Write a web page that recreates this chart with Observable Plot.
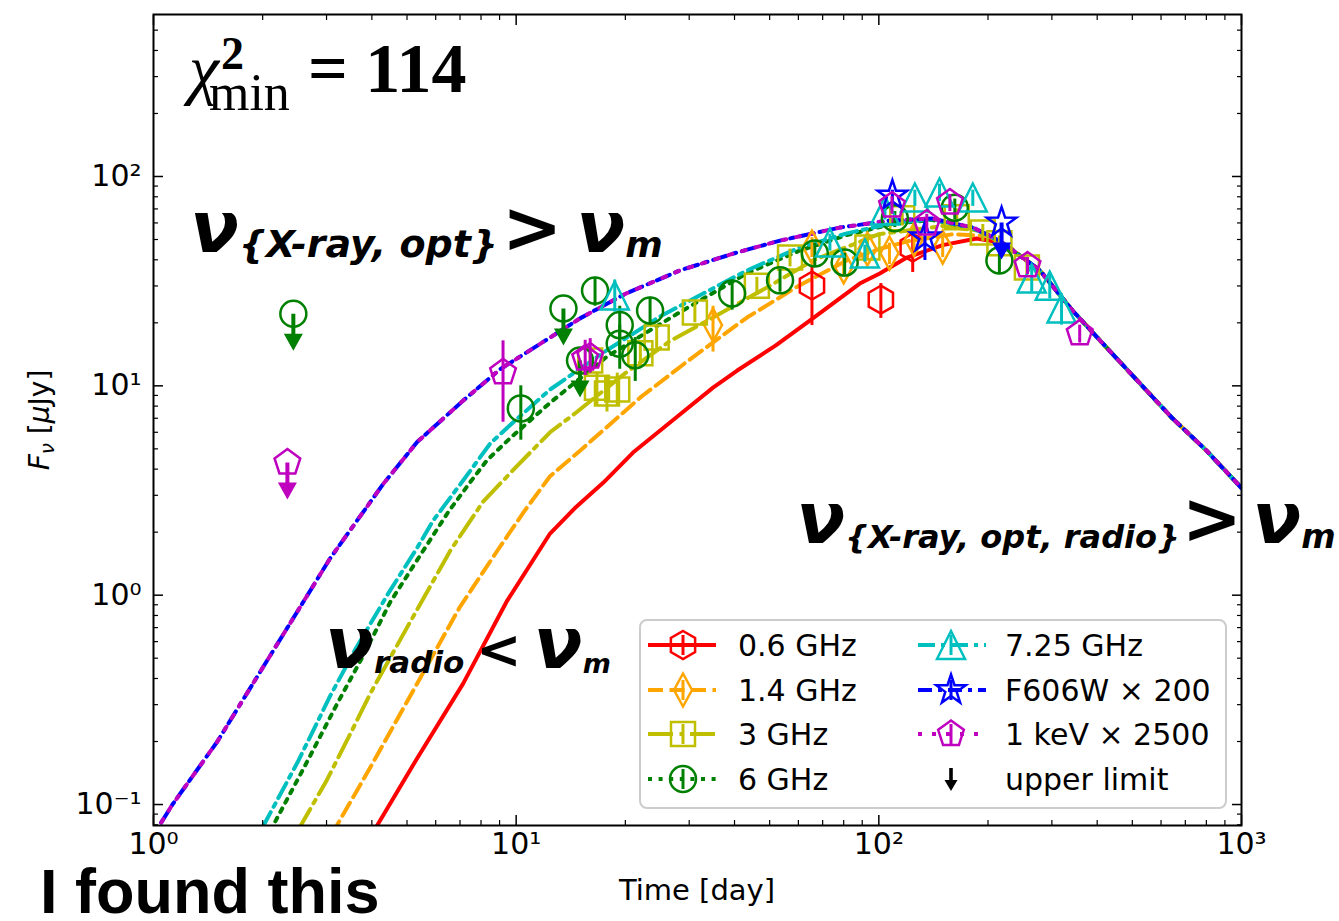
<!DOCTYPE html>
<html><head><meta charset="utf-8">
<script src="https://cdn.jsdelivr.net/npm/d3@7"></script>
<script src="https://cdn.jsdelivr.net/npm/@observablehq/plot@0.6"></script>
<style>body{margin:0;background:#fff} svg{display:block}</style>
</head><body><div id="chart"></div>
<script>
// ---------- axes ----------
const xMajor = [1, 10, 100, 1000];
const xMajorLabels = ["10⁰", "10¹", "10²", "10³"];
const xMinor = [2,3,4,5,6,7,8,9,20,30,40,50,60,70,80,90,200,300,400,500,600,700,800,900];
const yMajor = [0.1, 1, 10, 100];
const yMajorLabels = ["10⁻¹", "10⁰", "10¹", "10²"];
const yMinor = [0.08,0.09,0.2,0.3,0.4,0.5,0.6,0.7,0.8,0.9,2,3,4,5,6,7,8,9,20,30,40,50,60,70,80,90,200,300,400,500];

// ---------- model curves (time in days, flux in uJy) ----------
const tailT = [250, 278, 342, 425, 524, 645, 801, 1000];
const tailF = [40.8, 35.6, 22.9, 15.2, 10.3, 7.0, 4.9, 3.25];

const m06T = [4.0, 5.34, 7.14, 9.44, 12.4, 14.5, 17.4, 21, 28, 34.9, 40.6, 52, 64.5, 88.6, 100.6, 119.5, 150, 186, 215, 235];
const m06F = [0.072, 0.167, 0.378, 0.94, 1.97, 2.6, 3.45, 4.8, 7.2, 9.8, 11.8, 15.6, 20.5, 30.8, 34.4, 41, 47, 50.6, 48.5, 44];
const m14T = [3.1, 4.0, 5.34, 7.0, 8.87, 10.5, 12.4, 15, 22, 30, 43.3, 60, 81.6, 100, 120, 160, 200, 230];
const m14F = [0.072, 0.155, 0.38, 0.88, 1.63, 2.5, 3.7, 4.9, 8.8, 13.3, 21.2, 30, 39.7, 45, 49, 53, 52, 46];
const m3T = [2.5, 3.0, 3.5, 3.96, 5.0, 6.58, 8.11, 10, 12.4, 14.7, 20, 26.6, 34.9, 50, 65.8, 100, 150, 190, 220];
const m3F = [0.075, 0.13, 0.22, 0.339, 0.7, 1.63, 2.8, 4.1, 6.0, 7.5, 11.5, 16.4, 21.2, 30, 39.7, 53, 58, 55, 48];
const m6T = [2.1, 2.6, 3.2, 3.8, 4.5, 5.54, 6.5, 7.5, 8.3, 9.6, 12.4, 17.8, 28.3, 43.3, 60, 81.6, 110, 140, 180, 215];
const m6F = [0.075, 0.15, 0.3, 0.52, 0.93, 1.63, 2.5, 3.5, 4.4, 5.6, 8.3, 13.8, 22.5, 34.5, 44, 52.5, 59.5, 62, 57, 49.4];
const m725T = [2.0, 2.5, 3.07, 3.6, 4.44, 5.34, 5.9, 7.14, 8.48, 9.63, 12.4, 17.8, 25, 43.3, 60, 81.6, 110, 140, 180, 215];
const m725F = [0.078, 0.16, 0.33, 0.55, 1.02, 1.69, 2.27, 3.53, 5.3, 6.5, 9.6, 14.8, 21.5, 35.6, 45.5, 53.5, 60, 62.5, 57, 49.4];
const mOptT = [1.05, 1.128, 1.5, 2.0, 2.59, 3.07, 3.42, 4.3, 5.34, 7.14, 9.03, 12.4, 15, 20, 28.3, 40, 53.4, 78, 107, 140, 182, 215];
const mOptF = [0.082, 0.1, 0.2, 0.45, 0.93, 1.5, 1.95, 3.4, 5.4, 8.5, 12, 17, 21, 27.5, 35.6, 43, 49.4, 57, 61.6, 63, 57, 49.4];
const mXT = mOptT, mXF = mOptF;

// ---------- observations ----------
const o06T = [65.4, 101.3, 124];
const o06F = [30.1, 25.8, 45.8];
const o06Lo = [19.4, 21.0, 34.8];
const o06Hi = [37.6, 30.8, 55.2];

const o14T = [34.9, 65.4, 80, 93, 107, 125, 150];
const o14F = [19.5, 46, 37, 45, 43, 50, 46];
const o14Lo = [14.5, 41, 33, 40, 38, 44, 41];
const o14Hi = [24, 51, 41, 50, 48, 56, 51];

const o3T = [16.0, 16.7, 17.8, 19.0, 22, 24.4, 31.1, 46.1, 56.9, 93, 116, 164, 193.5, 215, 256];
const o3F = [13.2, 9.8, 9.2, 9.6, 14.3, 17.0, 22.4, 30.1, 41, 45.8, 63.2, 63.9, 54, 48, 36.7];
const o3Lo = [11.5, 8.0, 7.5, 8.0, 12.5, 15, 20, 27, 37, 42, 58, 58, 49, 44, 33];
const o3Hi = [15, 11.5, 11, 11.5, 16, 19, 25, 33, 45, 50, 68, 70, 59, 52, 40];

const o6T = [10.3, 16.5, 19.3, 19.3, 21.3, 23.4, 39.4, 53.4, 66.6, 80.5, 110.7, 162, 215];
const o6F = [7.8, 28.5, 19.5, 15.9, 14.0, 22.9, 27.6, 31.9, 42.9, 38.8, 63.2, 71, 39.7];
const o6Lo = [5.5, 24, 15, 12, 10.5, 19.5, 23, 28, 37, 34, 57, 62, 34];
const o6Hi = [10.0, 33, 24, 19.5, 17, 26.5, 32, 36, 48, 43, 68, 78, 45];
const o6UlT = [2.43, 13.5, 15.0];
const o6UlF = [22.1, 23.4, 13.2];

const o725T = [18.7, 73.3, 91.5, 104, 125.7, 147, 181.6, 264, 296, 319];
const o725F = [27, 48.4, 42.9, 68.8, 79.4, 83.8, 79.4, 32.6, 30.1, 23.4];
const o725Lo = [22.5, 44, 39, 62, 72, 76, 72, 28, 26, 19.5];
const o725Hi = [32, 53, 47, 75, 86, 92, 86, 37, 34, 27.5];

const oOptT = [109, 134];
const oOptF = [81.1, 51.2];
const oOptLo = [76, 39.7];
const oOptHi = [86, 59.8];
const oOptUlT = [218];
const oOptUlF = [60.3];

const oXT = [9.2, 15.5, 16.0, 108.7, 135.6, 157, 257, 358];
const oXF = [11.6, 13.5, 13.8, 72.7, 59.6, 75.1, 37.6, 17.8];
const oXLo = [6.7, 11.2, 11.5, 66, 54, 68, 34, 16];
const oXHi = [16.4, 16.5, 16.8, 80, 66, 82, 41, 19.5];
const oXUlT = [2.34];
const oXUlF = [4.3];

// ---------- legend / annotations text ----------
const legendLabels = ["0.6 GHz", "1.4 GHz", "3 GHz", "6 GHz", "7.25 GHz", "F606W × 200", "1 keV × 2500", "upper limit"];
const colors = {r: "#ff0000", o: "#ffa500", y: "#bfbf00", g: "#008000", c: "#00bfbf", b: "#0000ff", m: "#bf00bf"};

// ---------- symbols (pixel-sized shapes) ----------
function polySym(pts) {
  return {draw(ctx) { ctx.moveTo(pts[0][0], pts[0][1]); for (let i = 1; i < pts.length; i++) ctx.lineTo(pts[i][0], pts[i][1]); ctx.closePath(); }};
}
function regular(n, r, rot) { const p = []; for (let k = 0; k < n; k++) { const a = rot + k * 2 * Math.PI / n; p.push([r * Math.cos(a), r * Math.sin(a)]); } return p; }
function starPts(R, ri) { const p = []; for (let k = 0; k < 10; k++) { const a = -Math.PI / 2 + k * Math.PI / 5; const r = k % 2 ? ri : R; p.push([r * Math.cos(a), r * Math.sin(a)]); } return p; }
const hexSym = polySym(regular(6, 14, -Math.PI / 2));
const diaSym = polySym([[0, -16.5], [9, 0], [0, 16.5], [-9, 0]]);
const sqSym = polySym([[-12, -12], [12, -12], [12, 12], [-12, 12]]);
const triSym = polySym([[0, -14], [14, 14], [-14, 14]]);
const starSym = polySym(starPts(15.5, 6));
const pentSym = polySym(regular(5, 13.5, -Math.PI / 2));
const circSym = {draw(ctx) { ctx.moveTo(13, 0); ctx.arc(0, 0, 13, 0, 2 * Math.PI); }};
const arrowSym = polySym([[-2, 0], [2, 0], [2, 20], [9.5, 20], [0, 37], [-9.5, 20], [-2, 20]]);
const smallArrowSym = polySym([[-1.8, -11], [1.8, -11], [1.8, 1], [6.5, 1], [0, 12], [-6.5, 1], [-1.8, 1]]);

const table = (T, F) => T.map((t, i) => ({t, f: F[i]}));
const obs = (T, F, Lo, Hi) => T.map((t, i) => ({t, f: F[i], lo: Lo[i], hi: Hi[i]}));

const LW = 4;
const models = [
  {d: table(m06T.concat(tailT), m06F.concat(tailF)), c: colors.r, dash: null},
  {d: table(m14T.concat(tailT), m14F.concat(tailF)), c: colors.o, dash: "15,6.5"},
  {d: table(m3T.concat(tailT), m3F.concat(tailF)), c: colors.y, dash: "25,6.5,4,6.5"},
  {d: table(m6T.concat(tailT), m6F.concat(tailF)), c: colors.g, dash: "4,6.6"},
  {d: table(m725T.concat(tailT), m725F.concat(tailF)), c: colors.c, dash: "17,6,4,6"},
  {d: table(mOptT.concat(tailT), mOptF.concat(tailF)), c: colors.b, dash: "14,6,4,6"},
  {d: table(mXT.concat(tailT), mXF.concat(tailF)), c: colors.m, dash: "4,10"}
];
const series = [
  {d: obs(o06T, o06F, o06Lo, o06Hi), c: colors.r, sym: hexSym},
  {d: obs(o14T, o14F, o14Lo, o14Hi), c: colors.o, sym: diaSym},
  {d: obs(o3T, o3F, o3Lo, o3Hi), c: colors.y, sym: sqSym},
  {d: obs(o6T, o6F, o6Lo, o6Hi), c: colors.g, sym: circSym, ul: table(o6UlT, o6UlF)},
  {d: obs(o725T, o725F, o725Lo, o725Hi), c: colors.c, sym: triSym},
  {d: obs(oOptT, oOptF, oOptLo, oOptHi), c: colors.b, sym: starSym, ul: table(oOptUlT, oOptUlF)},
  {d: obs(oXT, oXF, oXLo, oXHi), c: colors.m, sym: pentSym, ul: table(oXUlT, oXUlF)}
];

const marks = [];
for (const m of models) marks.push(Plot.line(m.d, {x: "t", y: "f", stroke: m.c, strokeWidth: LW, strokeDasharray: m.dash, clip: true}));
for (const s of series) {
  marks.push(Plot.ruleX(s.d, {x: "t", y1: "lo", y2: "hi", stroke: s.c, strokeWidth: 3}));
  if (s.ul) {
    marks.push(Plot.dot(s.ul, {x: "t", y: "f", symbol: arrowSym, fill: s.c, stroke: "none"}));
    marks.push(Plot.dot(s.ul, {x: "t", y: "f", symbol: s.sym, fill: "none", stroke: s.c, strokeWidth: 2.5}));
  }
  marks.push(Plot.dot(s.d, {x: "t", y: "f", symbol: s.sym, fill: "none", stroke: s.c, strokeWidth: 2.5}));
}
const fx = d => xMajorLabels[xMajor.indexOf(d)];
const fy = d => yMajorLabels[yMajor.indexOf(d)];
marks.push(
  Plot.axisX({ticks: xMajor, tickFormat: fx, tickSize: -10, tickPadding: 17, strokeWidth: 1.5, label: null, fontSize: 30}),
  Plot.axisX({ticks: xMinor, tickSize: -5, strokeWidth: 1.2, fill: "none", label: null}),
  Plot.axisX({anchor: "top", ticks: xMajor, tickSize: -10, strokeWidth: 1.5, fill: "none", label: null}),
  Plot.axisX({anchor: "top", ticks: xMinor, tickSize: -5, strokeWidth: 1.2, fill: "none", label: null}),
  Plot.axisY({ticks: yMajor, tickFormat: fy, tickSize: -10, tickPadding: 22, strokeWidth: 1.5, label: null, fontSize: 30}),
  Plot.axisY({ticks: yMinor, tickSize: -5, strokeWidth: 1.2, fill: "none", label: null}),
  Plot.axisY({anchor: "right", ticks: yMajor, tickSize: -10, strokeWidth: 1.5, fill: "none", label: null}),
  Plot.axisY({anchor: "right", ticks: yMinor, tickSize: -5, strokeWidth: 1.2, fill: "none", label: null}),
  Plot.frame({stroke: "black", strokeWidth: 2})
);

const chart = Plot.plot({
  width: 1339, height: 921,
  marginLeft: 153, marginRight: 98, marginTop: 14, marginBottom: 96,
  x: {type: "log", domain: [1, 1000]},
  y: {type: "log", domain: [0.0794, 594]},
  style: {fontFamily: "DejaVu Sans", fontSize: "30px", color: "black", background: "white", overflow: "visible"},
  marks
});
document.getElementById("chart").appendChild(chart);

// ---------- annotations ----------
const svg = d3.select(chart);
const sx = chart.scale("x"), sy = chart.scale("y");
const P = (t, f) => [sx.apply(t), sy.apply(f)];

function rich(t, f, parts, family) {
  const [x, y] = P(t, f);
  const el = svg.append("text").attr("x", x).attr("y", y).attr("font-family", family).attr("fill", "black").attr("text-anchor", "start");
  for (const p of parts) {
    const ts = el.append("tspan").text(p.text).attr("font-size", p.size).attr("font-weight", p.weight || "normal").attr("font-style", p.style || "normal");
    if (p.dy) ts.attr("dy", p.dy);
    if (p.dx) ts.attr("dx", p.dx);
  }
  return el;
}
const DJ = "DejaVu Sans";
const M = 72, SD = 5;
function nuRel(t, f, sub, subSize, rel, relSize, mSize, g1, g2) {
  return rich(t, f, [
    {text: "ν", size: M, weight: "bold", style: "italic"},
    {text: sub, size: subSize, weight: "bold", style: "italic", dy: SD},
    {text: rel, size: relSize, weight: "bold", dy: -SD, dx: g1},
    {text: "ν", size: M, weight: "bold", style: "italic", dx: g2},
    {text: "m", size: mSize, weight: "bold", style: "italic", dy: SD}
  ], DJ);
}
nuRel(1.265, 43.4, "{X-ray, opt}", 38, ">", 72, 36, 4, 14);
nuRel(59.4, 1.76, "{X-ray, opt, radio}", 32, ">", 72, 33, 2, 10);
nuRel(2.98, 0.446, "radio", 31, "<", 54, 27, 12, 12);

// chi^2 label
{
  const [x, y] = P(1.225, 252);
  const g = svg.append("g").attr("transform", `translate(${x},${y})`).attr("font-family", "Liberation Serif").attr("fill", "black").attr("text-anchor", "start");
  g.append("text").attr("x", 4).attr("font-size", 68).attr("font-style", "italic").text("χ");
  g.append("text").attr("x", 36).attr("y", -23).attr("font-size", 46).attr("font-weight", "bold").text("2");
  g.append("text").attr("x", 24).attr("y", 18).attr("font-size", 52).text("min");
  g.append("text").attr("x", 123).attr("font-size", 70).attr("font-weight", "bold").text("= 114");
}

// axis labels
svg.append("text").attr("x", 697).attr("y", 900).attr("text-anchor", "middle").attr("font-family", DJ).attr("font-size", 29).text("Time [day]");
{
  const t = svg.append("text").attr("transform", "translate(49,420) rotate(-90)").attr("text-anchor", "middle").attr("font-family", DJ).attr("font-size", 28);
  t.append("tspan").attr("font-style", "italic").text("F");
  t.append("tspan").attr("font-style", "italic").attr("font-size", 20).attr("dy", 5).text("ν");
  t.append("tspan").attr("dy", -5).text(" [");
  t.append("tspan").attr("font-style", "italic").text("μ");
  t.append("tspan").text("Jy]");
}
svg.append("text").attr("x", 40).attr("y", 913).attr("text-anchor", "start").attr("font-family", "Liberation Sans").attr("font-weight", "bold").attr("font-size", 63).text("I found this");

// ---------- legend ----------
{
  const lg = svg.append("g").attr("text-anchor", "start");
  lg.append("rect").attr("x", 640).attr("y", 620).attr("width", 586).attr("height", 188).attr("rx", 7)
    .attr("fill", "white").attr("fill-opacity", 0.8).attr("stroke", "#cccccc").attr("stroke-width", 2);
  const rows = [645, 690, 734, 779];
  const cols = [{h: 648, m: 683, t: 738}, {h: 918, m: 951, t: 1005}];
  for (let i = 0; i < 8; i++) {
    const col = cols[Math.floor(i / 4)], y = rows[i % 4];
    if (i < 7) {
      const md = models[i], sr = series[i];
      lg.append("line").attr("x1", col.h).attr("x2", col.h + 68).attr("y1", y).attr("y2", y)
        .attr("stroke", md.c).attr("stroke-width", LW).attr("stroke-dasharray", md.dash);
      lg.append("line").attr("x1", col.m).attr("x2", col.m).attr("y1", y - 10).attr("y2", y + 10).attr("stroke", sr.c).attr("stroke-width", 3);
      const p = d3.path(); sr.sym.draw(p);
      lg.append("path").attr("d", p.toString()).attr("transform", `translate(${col.m},${y})`).attr("fill", "none").attr("stroke", sr.c).attr("stroke-width", 2.5);
    } else {
      const p = d3.path(); smallArrowSym.draw(p);
      lg.append("path").attr("d", p.toString()).attr("transform", `translate(${col.m},${y})`).attr("fill", "black");
    }
    lg.append("text").attr("x", col.t).attr("y", y + 11).attr("font-family", DJ).attr("font-size", 30).text(legendLabels[i]);
  }
}
</script></body></html>
